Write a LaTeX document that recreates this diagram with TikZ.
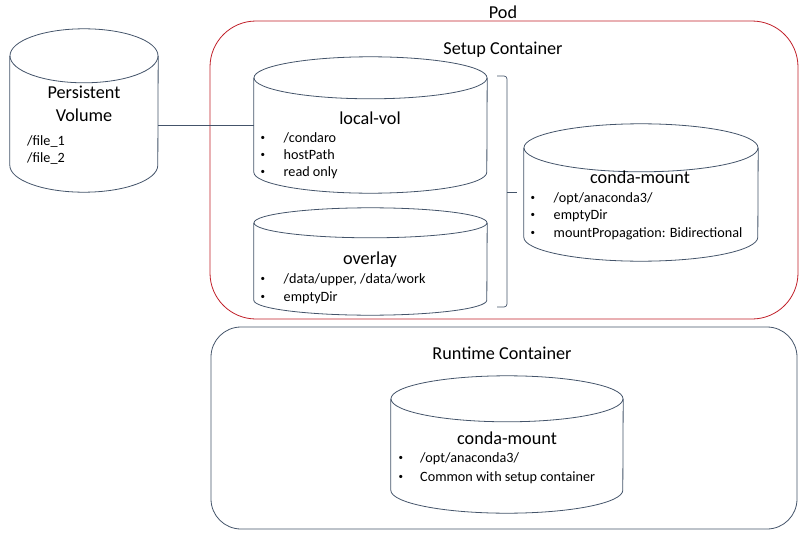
\documentclass[tikz,border=0pt]{standalone}
\usepackage{fontspec}
\setmainfont{Carlito}
\usepackage{xcolor}

\definecolor{slate}{RGB}{68,84,106}
\definecolor{podred}{RGB}{192,30,40}

% cylinder drawn round a body node: name, x radius, y radius
\newcommand{\drum}[3]{%
  \draw[vol] (#1.north) ellipse [x radius=#2, y radius=#3];
  \draw[vol] (#1.north west) -- (#1.south west)
    arc [start angle=180, end angle=360, x radius=#2, y radius=#3] -- (#1.north east);
}
\newcommand{\itm}[2][24pt]{\makebox[#1][l]{\hspace{1pt}\raisebox{1.2pt}{\fontsize{9}{9}\selectfont\textbullet}}#2}

\begin{document}
\begin{tikzpicture}[x=1pt,y=1pt]
        \tikzstyle{vol}=[draw=slate, line width=0.8pt]
        \tikzstyle{body}=[rectangle, inner sep=0pt]
        \tikzstyle{podbox}=[draw=podred, line width=0.8pt, rounded corners=46pt, inner sep=0pt]
        \tikzstyle{runbox}=[draw=slate, line width=0.8pt, rounded corners=30pt, inner sep=0pt]
        \tikzstyle{link}=[draw=slate, line width=0.7pt]
        \tikzstyle{title}=[font=\fontsize{18.2}{22}\selectfont, inner sep=0pt, anchor=base]
        \tikzstyle{item}=[font=\fontsize{14.2}{17}\selectfont, inner sep=0pt, anchor=base west]

        \useasboundingbox (0,0) rectangle (807,-538);

        % containers
        \node[podbox, minimum width=588pt, minimum height=298pt] (pod) at (504,-170) {};
        \node[runbox, minimum width=586pt, minimum height=202pt] (runtime) at (504,-428) {};

        \node[title] (podlbl) at (503,-18) {Pod};
        \node[title] (setuplbl) at (503,-54) {Setup Container};
        \node[title] (runlbl) at (502,-359) {Runtime Container};

        % volumes
        \node[body, minimum width=148pt, minimum height=109pt] (pv) at (84,-110.5) {};
        \node[body, minimum width=233pt, minimum height=94pt] (lv) at (370.5,-125) {};
        \node[body, minimum width=233pt, minimum height=77pt] (ov) at (370.5,-261.5) {};
        \node[body, minimum width=234pt, minimum height=89pt] (scm) at (641,-192.5) {};
        \node[body, minimum width=232pt, minimum height=91pt] (rcm) at (507,-444.5) {};

        \drum{pv}{74}{27}
        \drum{lv}{116.5}{21}
        \drum{ov}{116.5}{15}
        \drum{scm}{117}{24}
        \drum{rcm}{116}{23}

        \draw[link] (pv.east |- lv.west) -- (lv.west);

        % bracket
        \coordinate (brtop) at (497,-76);
        \coordinate (brbot) at (497,-307);
        \coordinate (brmid) at (507,-192);
        \draw[link, rounded corners=3pt] (brtop) -- ++(10,0) |- (brbot);
        \draw[link] (brmid) -- ++(10,0);

        % texts
        \node[title] (pvlbl) at (84,-98) {Persistent};
        \node[title] (pvlbl2) at (84,-121) {Volume};
        \node[item] (f1) at (27,-145) {/file\_1};
        \node[item] (f2) at (27,-162) {/file\_2};

        \node[title] (lvlbl) at (370,-124) {local-vol};
        \node[item] (lv1) at (259.5,-142) {\itm{/condaro}};
        \node[item] (lv2) at (259.5,-159) {\itm{hostPath}};
        \node[item] (lv3) at (259.5,-176) {\itm{read only}};

        \node[title] (ovlbl) at (370,-264) {overlay};
        \node[item] (ov1) at (259.5,-283) {\itm{/data/upper, /data/work}};
        \node[item] (ov2) at (259.5,-301) {\itm{emptyDir}};

        \node[title] (scmlbl) at (640,-183) {conda-mount};
        \node[item] (scm1) at (529.5,-202) {\itm{/opt/anaconda3/}};
        \node[item] (scm2) at (529.5,-219) {\itm{emptyDir}};
        \node[item] (scm3) at (529.5,-237) {\itm{mountPropagation: Bidirectional}};

        \node[title] (rcmlbl) at (507,-444) {conda-mount};
        \node[item] (rcm1) at (397.5,-462) {\itm[22.5pt]{/opt/anaconda3/}};
        \node[item] (rcm2) at (397.5,-481) {\itm[22.5pt]{Common with setup container}};
      \end{tikzpicture}
\end{document}
